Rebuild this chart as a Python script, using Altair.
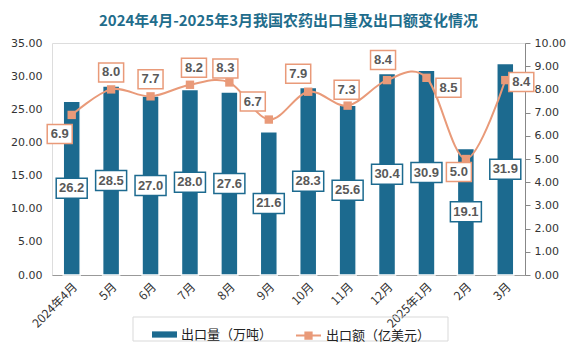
import altair as alt
import pandas as pd

months = ["2024年4月", "5月", "6月", "7月", "8月", "9月", "10月", "11月", "12月", "2025年1月", "2月", "3月"]
qty = [26.2, 28.5, 27.0, 28.0, 27.6, 21.6, 28.3, 25.6, 30.4, 30.9, 19.1, 31.9]
amt = [6.9, 8.0, 7.7, 8.2, 8.3, 6.7, 7.9, 7.3, 8.4, 8.5, 5.0, 8.4]
# label placement (pixel offsets from the line point), styling only
amt_label_dx = [-12, 0, 0, 4, -4, -16, -10, -1, -4, 22, -7, 16]
amt_label_dy = [19, -17, -17, -17, -14, -18, -18, -16, -20, 10, 13, 2]

s_qty = "出口量（万吨）"
s_amt = "出口额（亿美元）"

BLUE = "#1c6a8f"
ORANGE = "#e99a79"
TXT = "#595959"

df = pd.DataFrame({
    "month": months,
    "qty": qty,
    "amt": amt,
    "ldx": amt_label_dx,
    "ldy": amt_label_dy,
})

W, H = 473, 232
xaxis = alt.Axis(labelAngle=-45, ticks=False, domainColor="#999999",
                 labelFont="Noto Sans CJK SC", labelFontSize=12,
                 labelColor="#333333", labelPadding=6)
xscale = alt.Scale(type="band", paddingInner=0, paddingOuter=0)


def X():
    return alt.X("month:N", sort=months, title=None, scale=xscale, axis=xaxis)


yq_scale = alt.Scale(domain=[0, 35], nice=False)
ya_scale = alt.Scale(domain=[0, 10], nice=False)
yq_axis = alt.Axis(values=[0, 5, 10, 15, 20, 25, 30, 35], format=".2f", grid=False,
                   domain=False, ticks=False, labelPadding=10,
                   labelFont="DejaVu Sans", labelFontSize=11, labelColor="#333333")
ya_axis = alt.Axis(orient="right", values=list(range(0, 11)), format=".2f", grid=False,
                   domainColor="#888888", tickColor="#888888", tickSize=5,
                   labelPadding=4, labelFont="DejaVu Sans", labelFontSize=11,
                   labelColor="#333333")


def YQ(field):
    return alt.Y(field, scale=yq_scale, title=None, axis=yq_axis)


def YA(field):
    return alt.Y(field, scale=ya_scale, title=None, axis=ya_axis)


base = alt.Chart(df)

bars = base.mark_bar(size=17, stroke="white", strokeWidth=1.5).encode(
    x=X(),
    y=YQ("qty:Q"),
    color=alt.Color("s:N", scale=alt.Scale(domain=[s_qty], range=[BLUE]),
                    legend=alt.Legend(title=None, orient="none", legendX=100, legendY=279,
                                      symbolType="M-1,-0.25L1,-0.25L1,0.25L-1,0.25Z",
                                      symbolSize=625, labelFont="Noto Sans CJK SC",
                                      labelFontSize=13, labelColor="#222222", padding=0,
                                      symbolStrokeWidth=0)),
).transform_calculate(s=f"'{s_qty}'")

box_shape_q = "M-1,-0.645L1,-0.645L1,0.645L-1,0.645Z"
qboxes = base.transform_calculate(half="datum.qty/2").mark_point(
    shape=box_shape_q, size=961, filled=True, fill="white", stroke=BLUE,
    strokeWidth=1.5, opacity=1).encode(x=X(), y=YQ("half:Q"))

qtext = base.transform_calculate(half="datum.qty/2").mark_text(
    font="Liberation Sans", fontWeight="bold", fontSize=13, color=TXT, baseline="middle").encode(
    x=X(), y=YQ("half:Q"),
    text=alt.Text("qty:Q", format=".1f"))

frame = alt.Chart(alt.Data(values=[{"a": 1}])).mark_rect(
    fill=None, stroke="#d9d9d9", strokeWidth=1).encode(
    x=alt.value(81), x2=alt.value(396), y=alt.value(274), y2=alt.value(298))

left = alt.layer(bars, qboxes, qtext, frame)

line = base.mark_line(interpolate="cardinal", strokeWidth=2).encode(
    x=X(),
    y=YA("amt:Q"),
    stroke=alt.Stroke("s:N", scale=alt.Scale(domain=[s_amt], range=[ORANGE]),
                      legend=alt.Legend(title=None, orient="none", legendX=243, legendY=279,
                                        symbolType="M-1,0L1,0M-0.25,-0.25L0.25,-0.25L0.25,0.25L-0.25,0.25Z",
                                        symbolSize=625, symbolStrokeWidth=2,
                                        symbolFillColor=ORANGE,
                                        labelFont="Noto Sans CJK SC", labelFontSize=13,
                                        labelColor="#222222", padding=0)),
).transform_calculate(s=f"'{s_amt}'")

pts = base.mark_point(shape="square", size=70, filled=True, color=ORANGE, opacity=1).encode(
    x=X(), y=YA("amt:Q"))

box_shape_a = "M-1,-0.76L1,-0.76L1,0.76L-1,0.76Z"
aboxes = base.mark_point(shape=box_shape_a, size=625, filled=True, fill="white",
                         stroke=ORANGE, strokeWidth=1.5, opacity=1,
                         xOffset={"expr": "datum.ldx"}, yOffset={"expr": "datum.ldy"}).encode(
    x=X(), y=YA("amt:Q"))

atext = base.mark_text(font="Liberation Sans", fontWeight="bold", fontSize=13, color=TXT,
                       baseline="middle", dx={"expr": "datum.ldx"},
                       dy={"expr": "datum.ldy"}).encode(
    x=X(), y=YA("amt:Q"),
    text=alt.Text("amt:Q", format=".1f"))

right = alt.layer(line, pts, aboxes, atext)

chart = alt.layer(left, right).resolve_scale(y="independent", color="independent",
                                            stroke="independent").properties(
    width=W, height=H,
    autosize=alt.AutoSizeParams(type="none"),
    padding={"left": 44, "top": 35, "right": 48, "bottom": 76},
    title=alt.Title("2024年4月-2025年3月我国农药出口量及出口额变化情况",
                    font="Noto Sans CJK SC", fontSize=15, fontWeight="bold",
                    color="#1f6d8c", anchor="middle", offset=8),
).configure_view(fill="#efefef", stroke=None).configure(background="white")

chart.save("out.html", embed_options={"renderer": "svg", "actions": False})
